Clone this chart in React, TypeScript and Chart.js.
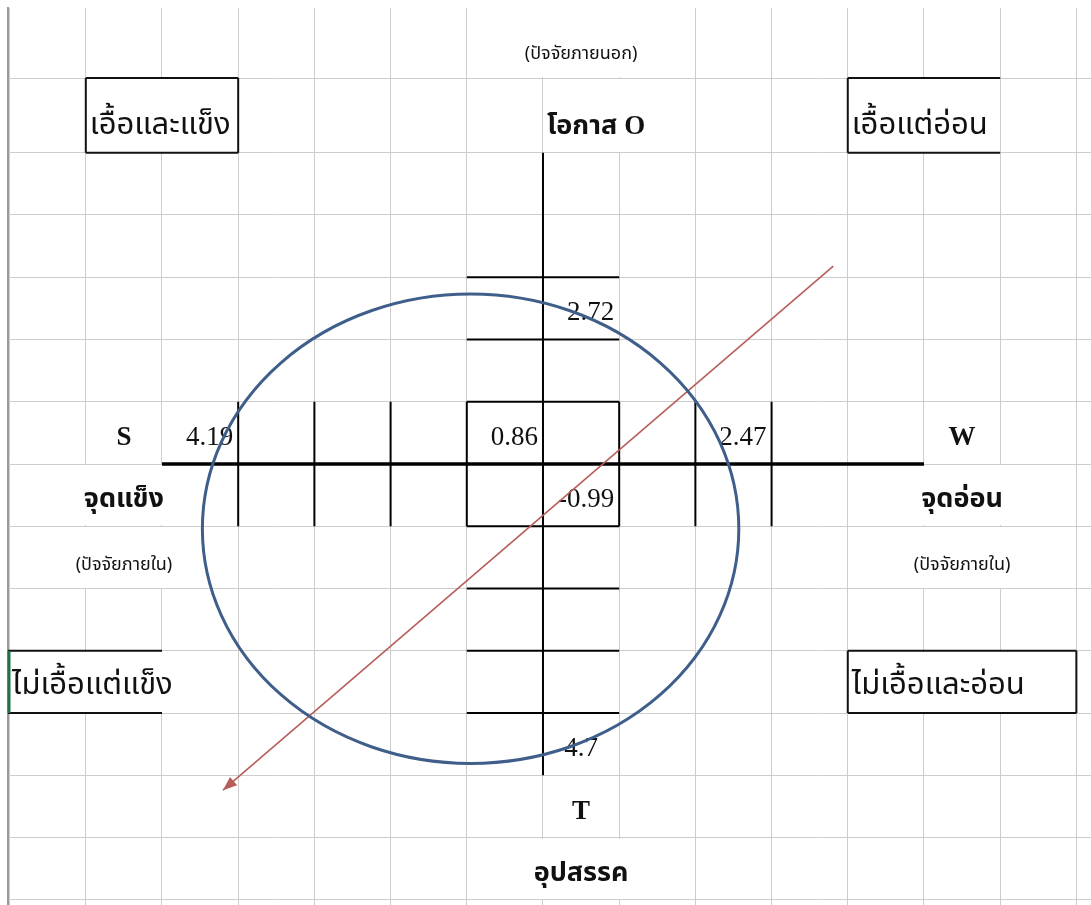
import React, { useEffect, useRef } from 'react';
import { Chart, registerables } from 'chart.js';

Chart.register(...registerables);

// ---------------- data ----------------
const factorCodes = ['S', 'W', 'O', 'T'];
const factorNames = ['จุดแข็ง', 'จุดอ่อน', 'โอกาส', 'อุปสรรค'];
const factorScores = [4.19, 2.47, 2.72, 4.7];
const netScores = [0.86, -0.99];
const factorGroups = ['(ปัจจัยภายใน)', '(ปัจจัยภายนอก)'];
const quadrantNames = ['เอื้อและแข็ง', 'เอื้อแต่อ่อน', 'ไม่เอื้อแต่แข็ง', 'ไม่เอื้อและอ่อน'];
const axisReach = 5;
const ticksOnHorizontal = [-4, -3, -2, 2, 3];
const ticksOnVertical = [3, 2, -2, -3, -4];
const centreBox = [-1, 1];
const ellipseCenter = [-0.95, -1.04];
const ellipseRadii = [3.52, 3.77];
const arrowStart = [3.81, 3.18];
const arrowEnd = [-4.2, -5.24];

// ---------------- layout ----------------
const W = 1091;
const H = 905;
const X_MIN = -7.021;
const X_MAX = 7.192;
const Y_MIN = -7.084;
const Y_MAX = 7.325;
const colEdges = [-7, -6, -5, -4, -3, -2, -1, 0, 1, 2, 3, 4, 5, 6, 7];
const rowEdges = [-7, -6, -5, -4, -3, -2, -1, 0, 1, 2, 3, 4, 5, 6.2];
const GRID = '#cdcdcd';
const BASE_OFFSET = 19;
const PAD_L = 4;
const PAD_R = 5;

const thai = (size: number, bold = false) =>
  `${bold ? 'bold ' : ''}${size}px Tahoma, "Noto Sans Thai", "Noto Sans Thai UI", "Noto Sans", "DejaVu Sans", sans-serif`;
const serif = (size: number, bold = false) =>
  `${bold ? 'bold ' : ''}${size}px "Liberation Serif", "Times New Roman", serif`;

const F_SMALL = thai(18);
const F_HEAD = thai(27, true);
const F_BOX = thai(31);
const F_NUM = serif(27);
const F_CODE = serif(27, true);

type Label = {
  text: string;
  suffix?: string;
  suffixFont?: string;
  cols: number[];
  rows: number[];
  align: 'left' | 'center' | 'right';
  font: string;
  border?: string;
  accent?: string;
};

const fmt = (v: number) => String(v);

const LABELS: Label[] = [
  { text: factorGroups[1], cols: [0, 1], rows: [6.2, Y_MAX], align: 'center', font: F_SMALL },
  { text: factorNames[2] + ' ', suffix: factorCodes[2], suffixFont: F_CODE, cols: [0, 1], rows: [5, 6.2], align: 'left', font: F_HEAD },
  { text: quadrantNames[0], cols: [-6, -4], rows: [5, 6.2], align: 'left', font: F_BOX, border: 'ltrb' },
  { text: quadrantNames[1], cols: [4, 6], rows: [5, 6.2], align: 'left', font: F_BOX, border: 'ltb' },
  { text: factorCodes[0], cols: [-6, -5], rows: [0, 1], align: 'center', font: F_CODE },
  { text: fmt(factorScores[0]), cols: [-5, -4], rows: [0, 1], align: 'right', font: F_NUM },
  { text: fmt(netScores[0]), cols: [-1, 0], rows: [0, 1], align: 'right', font: F_NUM },
  { text: fmt(factorScores[1]), cols: [2, 3], rows: [0, 1], align: 'right', font: F_NUM },
  { text: factorCodes[1], cols: [5, 6], rows: [0, 1], align: 'center', font: F_CODE },
  { text: fmt(factorScores[2]), cols: [0, 1], rows: [2, 3], align: 'right', font: F_NUM },
  { text: factorNames[0], cols: [-6, -5], rows: [-1, 0], align: 'center', font: F_HEAD },
  { text: fmt(netScores[1]), cols: [0, 1], rows: [-1, 0], align: 'right', font: F_NUM },
  { text: factorNames[1], cols: [5, 6], rows: [-1, 0], align: 'center', font: F_HEAD },
  { text: factorGroups[0], cols: [-6, -5], rows: [-2, -1], align: 'center', font: F_SMALL },
  { text: factorGroups[0], cols: [5, 6], rows: [-2, -1], align: 'center', font: F_SMALL },
  { text: quadrantNames[2], cols: [X_MIN, -5], rows: [-4, -3], align: 'left', font: F_BOX, border: 'tb', accent: '#217346' },
  { text: quadrantNames[3], cols: [4, 7], rows: [-4, -3], align: 'left', font: F_BOX, border: 'ltrb' },
  { text: fmt(factorScores[3]), cols: [0, 1], rows: [-5, -4], align: 'center', font: F_NUM },
  { text: factorCodes[3], cols: [0, 1], rows: [-6, -5], align: 'center', font: F_CODE },
  { text: factorNames[3], cols: [0, 1], rows: [-7, -6], align: 'center', font: F_HEAD },
];

const seg = (a: number[], b: number[], width: number, color = '#000') => ({
  data: [
    { x: a[0], y: a[1] },
    { x: b[0], y: b[1] },
  ],
  showLine: true,
  borderColor: color,
  backgroundColor: color,
  borderWidth: width,
  pointRadius: 0,
  pointHoverRadius: 0,
});

function buildDatasets() {
  const ds: any[] = [];
  ds.push(seg(arrowStart, arrowEnd, 1.6, '#B85E5A'));
  ds.push(seg([-axisReach, 0], [axisReach, 0], 3.5));
  ds.push(seg([0, -axisReach], [0, axisReach], 2));
  ticksOnHorizontal.forEach((t) => ds.push(seg([t, centreBox[0]], [t, centreBox[1]], 2)));
  ticksOnVertical.forEach((t) => ds.push(seg([centreBox[0], t], [centreBox[1], t], 2)));
  ds.push(seg([centreBox[0], centreBox[0]], [centreBox[0], centreBox[1]], 2));
  ds.push(seg([centreBox[1], centreBox[0]], [centreBox[1], centreBox[1]], 2));
  ds.push(seg([centreBox[0], centreBox[0]], [centreBox[1], centreBox[0]], 2));
  ds.push(seg([centreBox[0], centreBox[1]], [centreBox[1], centreBox[1]], 2));
  return ds;
}

const diagramPlugin = {
  id: 'swotDiagram',
  beforeDatasetsDraw(chart: any) {
    const { ctx } = chart;
    const xs = chart.scales.x;
    const ys = chart.scales.y;
    ctx.save();
    for (const lb of LABELS) {
      const x0 = xs.getPixelForValue(lb.cols[0]);
      const x1 = xs.getPixelForValue(lb.cols[1]);
      const yb = ys.getPixelForValue(lb.rows[0]);
      const yt = ys.getPixelForValue(lb.rows[1]);
      ctx.font = lb.font;
      const wMain = ctx.measureText(lb.text).width;
      let w = wMain;
      if (lb.suffix) {
        ctx.font = lb.suffixFont;
        w += ctx.measureText(lb.suffix).width;
      }
      let tx = x0 + PAD_L;
      if (lb.align === 'right') tx = x1 - PAD_R - w;
      if (lb.align === 'center') tx = (x0 + x1) / 2 - w / 2;
      const top = Math.round(yt) + (lb.rows[1] >= Y_MAX ? -1 : 1);
      const bot = Math.round(yb) - 1;
      ctx.fillStyle = '#ffffff';
      if (lb.border) ctx.fillRect(x0 + 1, top, x1 - x0 - 2, bot - top);
      ctx.fillRect(tx - 2, top, w + 4, bot - top);
      if (lb.border) {
        ctx.strokeStyle = '#111';
        ctx.lineWidth = 2;
        ctx.beginPath();
        if (lb.border.includes('t')) { ctx.moveTo(x0, yt); ctx.lineTo(x1, yt); }
        if (lb.border.includes('b')) { ctx.moveTo(x0, yb); ctx.lineTo(x1, yb); }
        if (lb.border.includes('l')) { ctx.moveTo(x0, yt); ctx.lineTo(x0, yb); }
        if (lb.border.includes('r')) { ctx.moveTo(x1, yt); ctx.lineTo(x1, yb); }
        ctx.stroke();
      }
      if (lb.accent) {
        ctx.strokeStyle = lb.accent;
        ctx.lineWidth = 3;
        ctx.beginPath();
        ctx.moveTo(x0 + 1, yt);
        ctx.lineTo(x0 + 1, yb);
        ctx.stroke();
      }
      ctx.fillStyle = '#111';
      ctx.textAlign = 'left';
      ctx.textBaseline = 'alphabetic';
      const base = yb - BASE_OFFSET;
      ctx.font = lb.font;
      ctx.fillText(lb.text, tx, base);
      if (lb.suffix) {
        ctx.font = lb.suffixFont;
        ctx.fillText(lb.suffix, tx + wMain, base);
      }
    }
    ctx.restore();
  },
  afterDatasetsDraw(chart: any) {
    const { ctx } = chart;
    const xs = chart.scales.x;
    const ys = chart.scales.y;
    ctx.save();
    const cx = xs.getPixelForValue(ellipseCenter[0]);
    const cy = ys.getPixelForValue(ellipseCenter[1]);
    const rx = Math.abs(xs.getPixelForValue(ellipseCenter[0] + ellipseRadii[0]) - cx);
    const ry = Math.abs(ys.getPixelForValue(ellipseCenter[1] + ellipseRadii[1]) - cy);
    ctx.strokeStyle = '#3F5F8A';
    ctx.lineWidth = 3;
    ctx.beginPath();
    ctx.ellipse(cx, cy, rx, ry, 0, 0, Math.PI * 2);
    ctx.stroke();
    const sx = xs.getPixelForValue(arrowStart[0]);
    const sy = ys.getPixelForValue(arrowStart[1]);
    const ex = xs.getPixelForValue(arrowEnd[0]);
    const ey = ys.getPixelForValue(arrowEnd[1]);
    const ang = Math.atan2(ey - sy, ex - sx);
    const len = 14;
    const half = 5.5;
    const bx = ex - Math.cos(ang) * len;
    const by = ey - Math.sin(ang) * len;
    ctx.fillStyle = '#B85E5A';
    ctx.beginPath();
    ctx.moveTo(ex, ey);
    ctx.lineTo(bx + Math.sin(ang) * half, by - Math.cos(ang) * half);
    ctx.lineTo(bx - Math.sin(ang) * half, by + Math.cos(ang) * half);
    ctx.closePath();
    ctx.fill();
    ctx.restore();
  },
};

export default function App() {
  const ref = useRef<HTMLCanvasElement | null>(null);
  useEffect(() => {
    if (!ref.current) return;
    const chart = new Chart(ref.current, {
      type: 'scatter',
      data: { datasets: buildDatasets() },
      options: {
        animation: false,
        responsive: false,
        maintainAspectRatio: false,
        events: [],
        layout: { padding: { left: 8, top: 8, right: 0, bottom: 0 } },
        plugins: { legend: { display: false }, tooltip: { enabled: false } },
        scales: {
          x: {
            type: 'linear',
            min: X_MIN,
            max: X_MAX,
            afterBuildTicks: (s: any) => {
              s.ticks = colEdges.map((v) => ({ value: v }));
            },
            ticks: { display: false },
            grid: { color: GRID, lineWidth: 1, drawTicks: false },
            border: { display: false },
          },
          y: {
            type: 'linear',
            min: Y_MIN,
            max: Y_MAX,
            afterBuildTicks: (s: any) => {
              s.ticks = rowEdges.map((v) => ({ value: v }));
            },
            ticks: { display: false },
            grid: { color: GRID, lineWidth: 1, drawTicks: false },
            border: { display: true, color: '#9a9a9a', width: 2 },
          },
        },
      },
      plugins: [diagramPlugin],
    } as any);
    return () => chart.destroy();
  }, []);
  return (
    <div style={{ position: 'absolute', left: 0, top: 0, width: W, height: H, background: '#fff' }}>
      <canvas ref={ref} width={W} height={H} style={{ display: 'block' }} />
    </div>
  );
}
